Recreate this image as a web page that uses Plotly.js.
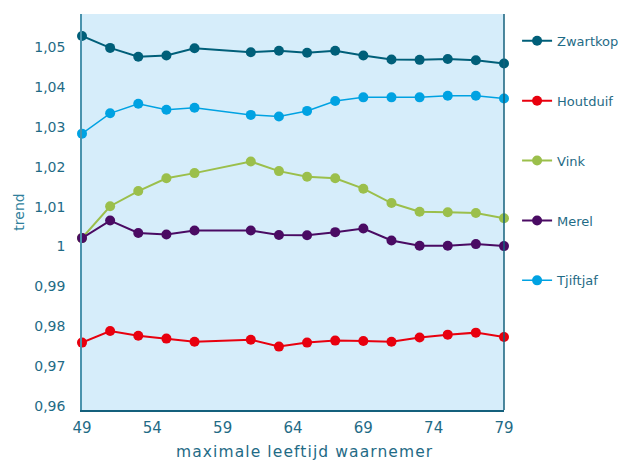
<!DOCTYPE html>
<html><head><meta charset="utf-8">
<script src="https://cdn.plot.ly/plotly-3.0.1.min.js"></script>
<style>body{margin:0;background:#fff} .annotation-text{letter-spacing:1.1px}</style>
</head><body>
<div id="chart" style="width:620px;height:461px"></div>
<script>
const leeftijd = [49, 51, 53, 55, 57, 61, 63, 65, 67, 69, 71, 73, 75, 77, 79];
const zwartkop = [1.0528, 1.0498, 1.0476, 1.0479, 1.0497, 1.0487, 1.0491, 1.0486, 1.0491, 1.0479, 1.0469, 1.0468, 1.0470, 1.0467, 1.0459];
const houtduif = [0.9759, 0.9788, 0.9776, 0.9769, 0.9761, 0.9766, 0.9749, 0.9759, 0.9764, 0.9763, 0.9761, 0.9772, 0.9779, 0.9784, 0.9773];
const vink = [1.0021, 1.0101, 1.0139, 1.0171, 1.0184, 1.0213, 1.0189, 1.0175, 1.0171, 1.0145, 1.0109, 1.0087, 1.0086, 1.0084, 1.0071];
const merel = [1.0021, 1.0065, 1.0034, 1.0030, 1.0040, 1.0040, 1.0029, 1.0028, 1.0036, 1.0045, 1.0015, 1.0002, 1.0002, 1.0006, 1.0001];
const tjiftjaf = [1.0283, 1.0334, 1.0358, 1.0343, 1.0348, 1.0330, 1.0326, 1.0340, 1.0365, 1.0374, 1.0374, 1.0374, 1.0378, 1.0378, 1.0371];
const yTickVals = [0.96, 0.97, 0.98, 0.99, 1.00, 1.01, 1.02, 1.03, 1.04, 1.05];
const yTickText = ["0,96", "0,97", "0,98", "0,99", "1", "1,01", "1,02", "1,03", "1,04", "1,05"];
const xTickVals = [49, 54, 59, 64, 69, 74, 79];
const xTitle = 'maximale leeftijd waarnemer';
const yTitle = 'trend';

const txt = '#1f6b86';
function tr(name, y, color, w) {
  return {x: leeftijd, y: y, name: name, type: 'scatter', mode: 'lines+markers',
    legendgroup: name, cliponaxis: false,
    line: {color: color, width: w}, marker: {color: color, size: 10}};
}
const data = [
  tr('Zwartkop', zwartkop, '#005f79', 2),
  tr('Houtduif', houtduif, '#e8000e', 2),
  tr('Vink', vink, '#9bbf4b', 2),
  tr('Merel', merel, '#4a0b63', 2),
  tr('Tjiftjaf', tjiftjaf, '#00a2e2', 1.5)
];
const layout = {
  width: 620, height: 461,
  margin: {l: 82, r: 116, t: 14, b: 51},
  paper_bgcolor: '#ffffff', plot_bgcolor: '#d6edfa',
  font: {family: 'DejaVu Sans', color: txt, size: 14},
  showlegend: true,
  legend: {xref: 'container', yref: 'container', x: 0.834, xanchor: 'left', y: 0.944, yanchor: 'top',
    tracegroupgap: 40, maxheight: 440,
    font: {size: 13, color: txt}, bgcolor: 'rgba(0,0,0,0)'},
  xaxis: {range: [49, 79], tickvals: xTickVals, showgrid: false, zeroline: false,
    showline: true, linecolor: '#14607c', linewidth: 1.5, ticks: '',
    tickfont: {size: 15}, ticklabelstandoff: 3},
  yaxis: {range: [0.959, 1.0583], tickvals: yTickVals, ticktext: yTickText,
    showgrid: false, zeroline: false, showline: true, linecolor: '#4a93ad', linewidth: 1.5,
    ticks: '', tickfont: {size: 14}, ticklabelstandoff: 12,
    title: {text: yTitle, font: {size: 14, color: '#2f7f9c'}, standoff: 6}},
  annotations: [{text: xTitle, xref: 'paper', yref: 'paper', x: 0.527, y: -0.107,
    xanchor: 'center', yanchor: 'middle', showarrow: false, font: {size: 15.5, color: txt}}],
  shapes: [{type: 'line', xref: 'paper', yref: 'paper', x0: 1, x1: 1, y0: 0, y1: 1,
    line: {color: '#14607c', width: 1.5}}]
};
Plotly.newPlot('chart', data, layout, {displayModeBar: false});
</script>
</body></html>
